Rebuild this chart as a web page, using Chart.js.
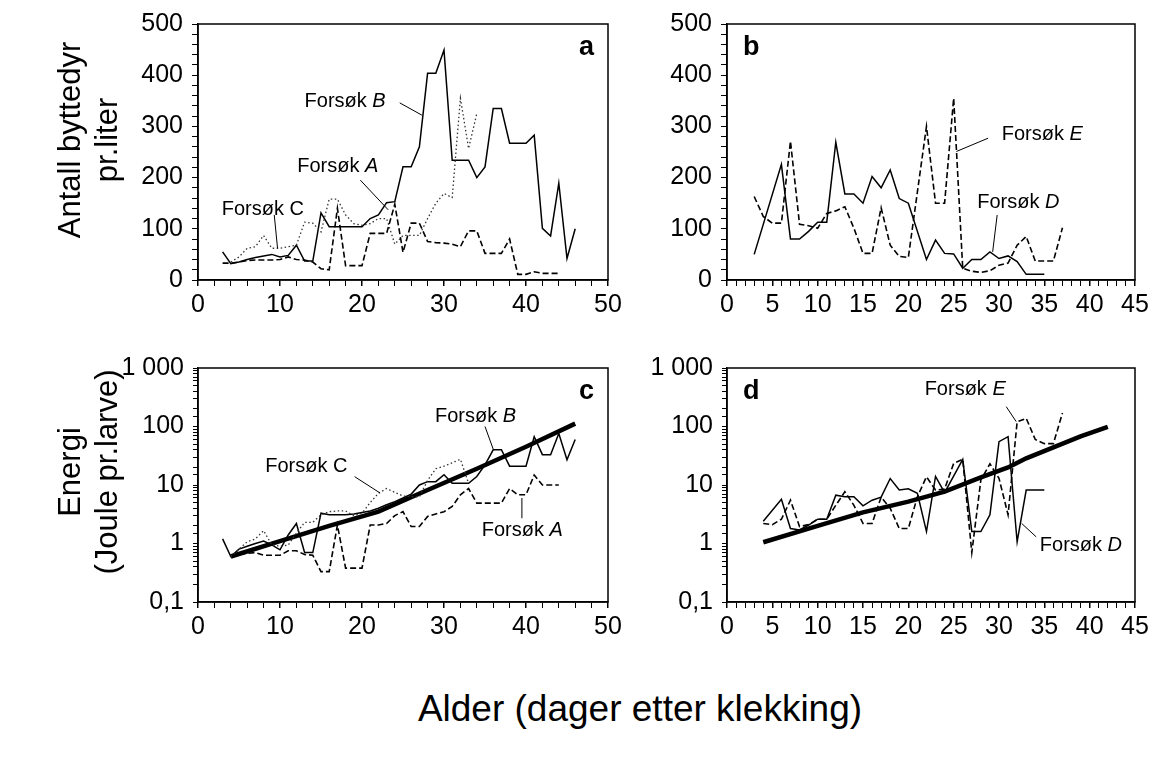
<!DOCTYPE html>
<html>
<head>
<meta charset="utf-8">
<script src="https://cdn.jsdelivr.net/npm/chart.js"></script>
<style>
body{margin:0;background:#fff;}
#fig{position:relative;width:1155px;height:758px;overflow:hidden;background:#fff;font-family:"Liberation Sans",Arial,sans-serif;color:#000;}
#fig canvas{position:absolute;}
.ttl{position:absolute;white-space:nowrap;text-align:center;}
.ytl{font-size:31px;line-height:37px;transform:translate(-50%,-50%) rotate(-90deg);}
</style>
</head>
<body>
<div id="fig">
  <canvas id="pa" width="510" height="330" style="left:118px;top:0px"></canvas>
  <canvas id="pb" width="508" height="330" style="left:647px;top:0px"></canvas>
  <canvas id="pc" width="510" height="312" style="left:118px;top:340px"></canvas>
  <canvas id="pd" width="508" height="312" style="left:647px;top:340px"></canvas>
  <div class="ttl ytl" style="left:88px;top:140px">Antall byttedyr<br>pr.liter</div>
  <div class="ttl ytl" style="left:88px;top:472px">Energi<br>(Joule pr.larve)</div>
  <div class="ttl" style="left:0;width:1280px;top:688px;font-size:37px">Alder (dager etter klekking)</div>
</div>
<script>
// ---- panel a: prey per litre, trials A B C (x = age in days)
const aDaysB = [3,4,5,6,7,8,9,10,11,12,13,14,15,16,17,18,19,20,21,22,23,24,25,26,27,28,29,30,31,32,33,34,35,36,37,38,39,40,41,42,43,44,45,46];
const aPreyB = [55,32,35,40,44,47,50,45,48,68,37,37,131,104,104,104,104,104,120,127,151,153,221,221,260,404,404,449,234,234,234,200,221,335,335,267,267,267,283,101,86,189,42,100];
const aDaysA = [3,4,5,6,7,8,9,10,11,12,13,14,15,16,17,18,19,20,21,22,23,24,25,26,27,28,29,30,31,32,33,34,35,36,37,38,39,40,41,42,43,44];
const aPreyA = [33,33,35,38,39,39,39,40,45,40,39,35,22,20,140,28,28,28,91,91,91,148,54,111,111,75,73,72,70,65,96,96,52,52,52,80,11,11,16,13,13,13];
const aDaysC = [4,5,6,7,8,9,10,11,12,13,14,15,16,17,18,19,20,21,22,23,24,25,26,27,28,29,30,31,32,33,34];
const aPreyC = [35,45,62,65,87,62,62,65,68,113,111,94,158,158,127,110,107,110,120,120,70,87,87,87,120,150,169,161,355,257,325];

// ---- panel b: prey per litre, trials D E
const bDaysD = [3,6,7,8,9,10,11,12,13,14,15,16,17,18,19,20,22,23,24,25,26,27,28,29,30,31,32,33,34,35];
const bPreyD = [50,226,80,80,95,113,113,269,168,168,150,202,180,215,159,150,40,78,52,51,23,40,40,55,42,47,36,11,11,11];
const bDaysE = [3,4,5,6,7,8,9,10,11,12,13,14,15,16,17,18,19,20,22,23,24,25,26,27,28,29,30,31,32,33,34,35,36,37];
const bPreyE = [163,124,111,111,271,109,106,101,130,135,143,101,52,52,141,68,46,44,300,150,150,355,23,17,15,18,29,33,68,85,37,37,37,102];

// ---- panel c: energy (J per larva), trials A B C + requirement curve
const cDaysB = [3,4,5,6,7,8,9,10,11,12,13,14,15,16,17,18,19,20,21,22,23,24,25,26,27,28,29,30,31,32,33,34,35,36,37,38,39,40,41,42,43,44,45,46];
const cEnergyB = [1.2,0.6,0.8,0.9,1.0,1.1,0.95,0.78,1.4,2.2,0.7,0.7,3.3,3.1,3.1,3.1,3.2,3.4,3.6,4.0,4.6,5.2,6.0,7.0,10,11.4,11.4,15,10.7,10.7,10.7,14,22,40,40,21,21,21,67,33,33,76,27,60];
const cDaysA = [4,5,6,7,8,9,10,11,12,13,14,15,16,17,18,19,20,21,22,23,24,25,26,27,28,29,30,31,32,33,34,35,36,37,38,39,40,41,42,43,44];
const cEnergyA = [0.6,0.65,0.68,0.7,0.63,0.63,0.63,0.75,0.75,0.65,0.63,0.33,0.33,2.07,0.38,0.38,0.38,2.07,2.07,2.2,3.0,3.5,1.95,1.95,2.9,3.2,3.5,4.3,6.8,8.7,4.9,4.9,4.9,4.9,8.7,6.8,6.8,14.8,10,10,10];
const cDaysC = [4,5,6,7,8,9,10,11,12,13,14,15,16,17,18,19,20,21,22,23,24,25,26,27,28,29,30,31,32,33];
const cEnergyC = [0.6,0.8,1.07,1.2,1.66,0.95,0.9,0.94,1.5,2.3,2.3,3.1,3.5,3.6,3.6,3.0,3.3,5.0,7.2,8.7,7.5,6.5,6.3,6.3,12,19,21,24,27.5,10.7];
const cDaysNeed = [4,10,16,22,28,34,40,46];
const cEnergyNeed = [0.6,1.1,2.0,3.5,8.2,19,45,112];

// ---- panel d: energy, trials D E + requirement curve
const dDaysD = [4,6,7,8,9,10,11,12,13,14,15,16,17,18,19,20,21,22,23,24,26,27,28,29,30,31,32,33,34,35];
const dEnergyD = [2.4,5.7,1.8,1.7,2.07,2.6,2.6,6.7,6.3,6.3,4.4,5.5,6.2,12.9,8.2,8.6,7.2,1.6,14,7.4,27.5,1.6,1.6,3.1,55,67,1.07,8.2,8.2,8.2];
const dDaysE = [4,5,6,7,8,9,10,11,12,13,14,15,16,17,18,19,20,21,22,23,24,25,26,27,28,29,30,31,32,33,34,35,36,37];
const dEnergyE = [2.2,2.1,2.6,5.5,1.95,2.1,2.6,2.6,4.5,7.7,4.5,2.2,2.2,6.2,4.0,1.8,1.8,6.3,13.8,8.2,8.5,23.4,27.5,0.7,12.2,23,13,3.1,120,138,60,51,51,170];
const dDaysNeed = [4,10,15,20,24,28,31,33,36,39,42];
const dEnergyNeed = [1.05,2.0,3.4,5.2,7.7,13.5,20,28.6,44,68,99];

const FONT = '"Liberation Sans", Arial, sans-serif';
Chart.defaults.font.family = FONT;
Chart.defaults.color = '#000';

const pts = (xs, ys) => xs.map((d, i) => ({x: d, y: ys[i]}));
const STYLE = {
  solid:  {borderColor: '#000', borderWidth: 1.5, borderDash: []},
  dashed: {borderColor: '#000', borderWidth: 1.6, borderDash: [6, 3]},
  dotted: {borderColor: '#333', borderWidth: 1.3, borderDash: [1.5, 2.5]},
  thick:  {borderColor: '#000', borderWidth: 4.5, borderDash: []}
};
function series(xs, ys, kind) {
  return Object.assign({data: pts(xs, ys), pointRadius: 0, tension: 0, fill: false}, STYLE[kind]);
}

function xAxis(max, step, every) {
  return {
    type: 'linear', min: 0, max: max,
    border: {color: '#000', width: 1.5},
    grid: {drawOnChartArea: false, tickLength: 6, tickColor: '#000',
           lineWidth: c => (c.tick && c.tick.value % every === 0) ? 1.5 : 1},
    ticks: {stepSize: step, autoSkip: false, maxRotation: 0, padding: 4,
            font: {size: 25}, callback: v => v % every === 0 ? v : ''},
    afterFit: s => { s.height = 50; }
  };
}
function yLinear() {
  return {
    type: 'linear', min: 0, max: 500,
    border: {color: '#000', width: 1.5},
    grid: {drawOnChartArea: false, tickLength: 6, tickColor: '#000'},
    ticks: {stepSize: 20, autoSkip: false, padding: 9, font: {size: 25},
            callback: v => v % 100 === 0 ? v : ''},
    afterFit: s => { s.width = 80; }
  };
}
const decadeLabel = {'-1': '0,1', '0': '1', '1': '10', '2': '100', '3': '1 000'};
function yLog() {
  return {
    type: 'logarithmic', min: 0.1, max: 1000,
    border: {color: '#000', width: 1.5},
    grid: {drawOnChartArea: false, tickLength: 5, tickColor: '#000'},
    ticks: {autoSkip: false, padding: 9, font: {size: 25},
            callback: v => {
              const e = Math.log10(v), r = Math.round(e);
              return Math.abs(e - r) < 1e-6 ? (decadeLabel[r] || '') : '';
            }},
    afterFit: s => { s.width = 80; }
  };
}

// box frame, panel letter and "Forsøk X" labels with leader lines
const framePlugin = {
  id: 'frame',
  afterDraw(chart, args, opts) {
    const {ctx, chartArea: ca} = chart;
    const sx = chart.scales.x, sy = chart.scales.y;
    ctx.save();
    ctx.strokeStyle = '#000';
    ctx.lineWidth = 1.5;
    ctx.strokeRect(ca.left, ca.top, ca.right - ca.left, ca.bottom - ca.top);

    ctx.fillStyle = '#000';
    ctx.font = 'bold 27px ' + FONT;
    ctx.textBaseline = 'alphabetic';
    if (opts.letterLeft) {
      ctx.textAlign = 'left';
      ctx.fillText(opts.letter, ca.left + 16, ca.top + 31);
    } else {
      ctx.textAlign = 'right';
      ctx.fillText(opts.letter, ca.right - 14, ca.top + 31);
    }

    ctx.textAlign = 'left';
    ctx.textBaseline = 'middle';
    ctx.lineWidth = 1;
    (opts.notes || []).forEach(n => {
      const px = sx.getPixelForValue(n.at[0]), py = sy.getPixelForValue(n.at[1]);
      ctx.font = '20px ' + FONT;
      ctx.fillText('Forsøk ', px, py);
      const w = ctx.measureText('Forsøk ').width;
      ctx.font = (n.italic ? 'italic ' : '') + '20px ' + FONT;
      ctx.fillText(n.name, px + w, py);
      ctx.beginPath();
      ctx.moveTo(sx.getPixelForValue(n.from[0]), sy.getPixelForValue(n.from[1]));
      ctx.lineTo(sx.getPixelForValue(n.to[0]), sy.getPixelForValue(n.to[1]));
      ctx.stroke();
    });
    ctx.restore();
  }
};

function panel(id, datasets, x, y, pad, frame) {
  return new Chart(document.getElementById(id), {
    type: 'line',
    data: {datasets: datasets},
    options: {
      responsive: false,
      animation: false,
      events: [],
      layout: {padding: pad},
      plugins: {legend: {display: false}, tooltip: {enabled: false}, frame: frame},
      scales: {x: x, y: y}
    },
    plugins: [framePlugin]
  });
}

panel('pa', [
  series(aDaysC, aPreyC, 'dotted'),
  series(aDaysA, aPreyA, 'dashed'),
  series(aDaysB, aPreyB, 'solid')
], xAxis(50, 2, 10), yLinear(), {top: 24, right: 20, left: 0, bottom: 0}, {
  letter: 'a',
  notes: [
    {name: 'B', italic: true, at: [13, 348], from: [24.6, 346], to: [27.3, 322]},
    {name: 'A', italic: true, at: [12.1, 221], from: [19.8, 195], to: [23.2, 137]},
    {name: 'C', italic: false, at: [2.9, 137], from: [9.3, 127], to: [9.7, 62]}
  ]
});

panel('pb', [
  series(bDaysE, bPreyE, 'dashed'),
  series(bDaysD, bPreyD, 'solid')
], xAxis(45, 1, 5), yLinear(), {top: 24, right: 20, left: 0, bottom: 0}, {
  letter: 'b', letterLeft: true,
  notes: [
    {name: 'E', italic: true, at: [30.3, 285], from: [28.8, 277], to: [25.3, 251]},
    {name: 'D', italic: true, at: [27.6, 152], from: [29.8, 127], to: [29.3, 55]}
  ]
});

panel('pc', [
  series(cDaysC, cEnergyC, 'dotted'),
  series(cDaysA, cEnergyA, 'dashed'),
  series(cDaysB, cEnergyB, 'solid'),
  series(cDaysNeed, cEnergyNeed, 'thick')
], xAxis(50, 2, 10), yLog(), {top: 28, right: 20, left: 0, bottom: 0}, {
  letter: 'c',
  notes: [
    {name: 'C', italic: false, at: [8.2, 20.4], from: [19.1, 13.9], to: [22.2, 7.3]},
    {name: 'B', italic: true, at: [28.9, 151], from: [35, 100], to: [36, 41]},
    {name: 'A', italic: true, at: [34.6, 1.7], from: [39.5, 2.7], to: [39.5, 6.0]}
  ]
});

panel('pd', [
  series(dDaysE, dEnergyE, 'dashed'),
  series(dDaysD, dEnergyD, 'solid'),
  series(dDaysNeed, dEnergyNeed, 'thick')
], xAxis(45, 1, 5), yLog(), {top: 28, right: 20, left: 0, bottom: 0}, {
  letter: 'd', letterLeft: true,
  notes: [
    {name: 'E', italic: true, at: [21.8, 437], from: [30.8, 218], to: [31.9, 121]},
    {name: 'D', italic: true, at: [34.5, 0.94], from: [34.1, 1.3], to: [32.5, 2.2]}
  ]
});
</script>
</body>
</html>
